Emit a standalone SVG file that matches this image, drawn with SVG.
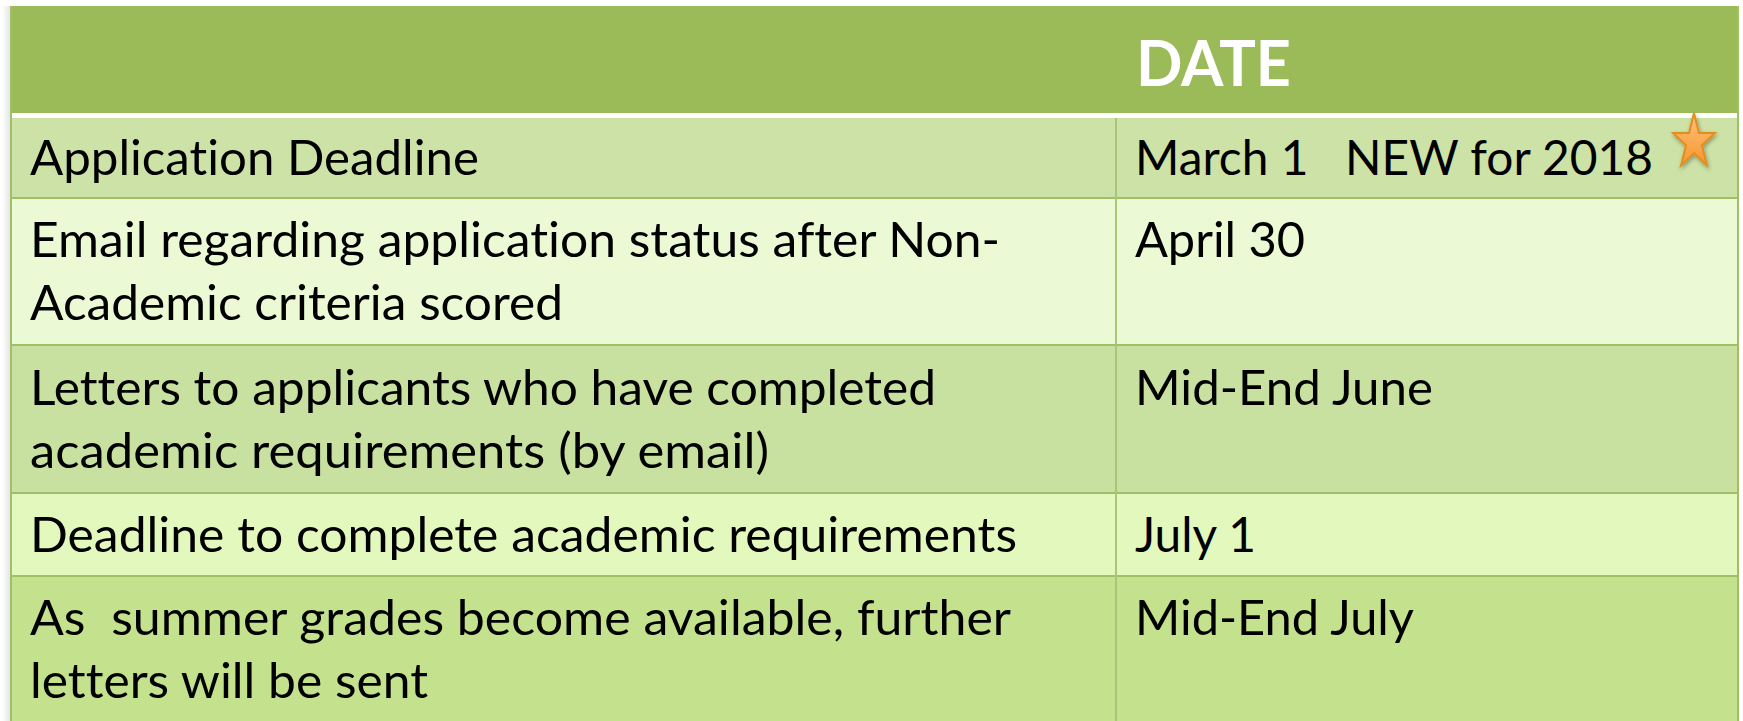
<svg xmlns="http://www.w3.org/2000/svg" width="1743" height="721" viewBox="0 0 1743 721">
  <style>
    .cell { font-family: Lato, "Open Sans", "Liberation Sans", sans-serif; font-size: 48px; fill: #000000; font-variant-ligatures: none; font-feature-settings: "liga" 0, "clig" 0; }
    .head { font-family: Lato, "Open Sans", "Liberation Sans", sans-serif; font-size: 63px; font-weight: 700; fill: #ffffff; }
    .rule { fill: #a0c066; }
    .vrule { fill: #a8c67a; }
  </style>
  <defs>
    <linearGradient id="shadowL" x1="0" y1="0" x2="1" y2="0">
      <stop offset="0" stop-color="#ffffff"/>
      <stop offset="1" stop-color="#e6e6e6"/>
    </linearGradient>
    <linearGradient id="starFill" x1="0" y1="0" x2="0" y2="1">
      <stop offset="0" stop-color="#ffc27c"/>
      <stop offset="1" stop-color="#f7962f"/>
    </linearGradient>
    <filter id="starShadow" x="-30%" y="-30%" width="160%" height="160%">
      <feGaussianBlur in="SourceAlpha" stdDeviation="2"/>
      <feOffset dx="1" dy="2" result="b"/>
      <feComponentTransfer><feFuncA type="linear" slope="0.35"/></feComponentTransfer>
      <feMerge><feMergeNode/><feMergeNode in="SourceGraphic"/></feMerge>
    </filter>
  </defs>

  <rect x="0" y="0" width="1743" height="721" fill="#ffffff"/>
  <rect x="2" y="6" width="8" height="715" fill="url(#shadowL)"/>

  <g id="header">
    <rect x="10" y="6" width="1729" height="107" fill="#9bbb59"/>
    <rect x="12" y="113" width="1726" height="5" fill="#ffffff"/>
    <text class="head" x="1136" y="86" textLength="155" lengthAdjust="spacingAndGlyphs">DATE</text>
  </g>

  <g id="row1">
    <rect x="10" y="118" width="1729" height="79" fill="#cde2a6"/>
    <text class="cell" x="30" y="175" textLength="449" lengthAdjust="spacingAndGlyphs">Application Deadline</text>
    <text class="cell" x="1135" y="175" textLength="518" lengthAdjust="spacingAndGlyphs" xml:space="preserve">March 1   NEW for 2018</text>
    <g id="star" filter="url(#starShadow)">
      <polygon points="1694,113 1698.9,133 1714.9,133 1702,145.4 1706.9,165.5 1694,153.1 1681.1,165.5 1686,145.4 1673.1,133 1689.1,133" fill="url(#starFill)" stroke="#e38d1c" stroke-width="2" stroke-linejoin="miter"/>
    </g>
  </g>

  <g id="row2">
    <rect x="10" y="199" width="1729" height="145" fill="#ebfad5"/>
    <text class="cell" x="30" y="257" textLength="970" lengthAdjust="spacingAndGlyphs">Email regarding application status after Non-</text>
    <text class="cell" x="30" y="320" textLength="533" lengthAdjust="spacingAndGlyphs">Academic criteria scored</text>
    <text class="cell" x="1135" y="257" textLength="170" lengthAdjust="spacingAndGlyphs">April 30</text>
  </g>

  <g id="row3">
    <rect x="10" y="346" width="1729" height="146" fill="#c9e1a0"/>
    <text class="cell" x="30" y="405" textLength="906" lengthAdjust="spacingAndGlyphs">Letters to applicants who have completed</text>
    <text class="cell" x="30" y="468" textLength="739" lengthAdjust="spacingAndGlyphs">academic requirements (by email)</text>
    <text class="cell" x="1135" y="405" textLength="298" lengthAdjust="spacingAndGlyphs">Mid-End June</text>
  </g>

  <g id="row4">
    <rect x="10" y="494" width="1729" height="81" fill="#e2f8bd"/>
    <text class="cell" x="30" y="552" textLength="987" lengthAdjust="spacingAndGlyphs">Deadline to complete academic requirements</text>
    <text class="cell" x="1135" y="552" textLength="121" lengthAdjust="spacingAndGlyphs">July 1</text>
  </g>

  <g id="row5">
    <rect x="10" y="577" width="1729" height="144" fill="#c4e28d"/>
    <text class="cell" x="30" y="635" textLength="981" lengthAdjust="spacingAndGlyphs" xml:space="preserve">As  summer grades become available, further</text>
    <text class="cell" x="30" y="698" textLength="398" lengthAdjust="spacingAndGlyphs">letters will be sent</text>
    <text class="cell" x="1135" y="635" textLength="279" lengthAdjust="spacingAndGlyphs">Mid-End July</text>
  </g>

  <g id="connectors">
    <rect class="rule" x="10" y="197" width="1729" height="2"/>
    <rect class="rule" x="10" y="344" width="1729" height="2"/>
    <rect class="rule" x="10" y="492" width="1729" height="2"/>
    <rect class="rule" x="10" y="575" width="1729" height="2"/>
    <rect class="vrule" x="1115" y="118" width="2" height="603"/>
    <rect class="rule" x="10" y="6" width="2" height="715"/>
    <rect class="rule" x="1737" y="6" width="2" height="715"/>
  </g>
</svg>
